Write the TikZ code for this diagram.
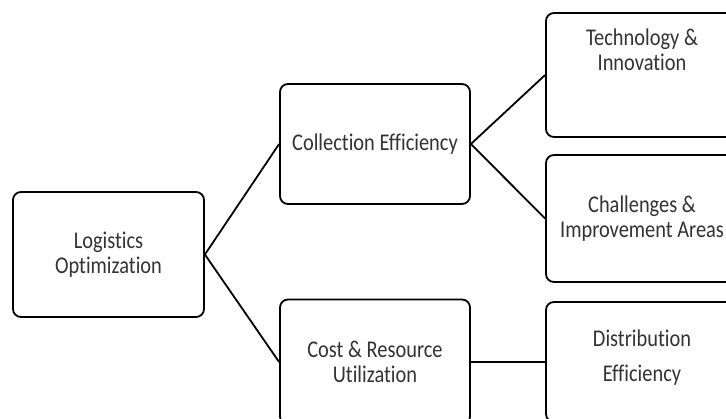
\documentclass[tikz,border=0pt]{standalone}
\usepackage{fontspec}
\setmainfont{Carlito}[FakeStretch=0.85, Ligatures=NoCommon]
\definecolor{txt}{HTML}{333333}
\begin{document}
\begin{tikzpicture}[x=1pt,y=-1pt,
  box/.style={draw=black, line width=1.8pt, rounded corners=8pt, fill=white, inner sep=0pt, align=center, text=txt, font=\fontsize{24}{25}\selectfont},
  lbl/.style={inner sep=0pt, align=center, text=txt, font=\fontsize{24}{25}\selectfont},
  link/.style={draw=black, line width=1.8pt}]
\useasboundingbox (0,0) rectangle (726,418);
\clip (0,0) rectangle (726,418);
\node[box, minimum width=191pt, minimum height=125pt] (root) at (108.5,254.5) {Logistics\\Optimization};
\node[box, minimum width=190pt, minimum height=120pt] (coll) at (375,144) {Collection Efficiency};
\node[box, minimum width=190pt, minimum height=125pt] (cost) at (375,362) {Cost \& Resource\\Utilization};
\node[box, minimum width=192pt, minimum height=124pt] (tech) at (642,75) {};
\node[lbl] (techlbl) at (642,50) {Technology \&\\Innovation};
\node[box, minimum width=192pt, minimum height=127pt] (chal) at (642,218.5) {Challenges \&\\Improvement Areas};
\node[box, minimum width=192pt, minimum height=120pt] (dist) at (642,362) {};
\node[lbl] (distlbl) at (642,357.5) {Distribution\\[10pt]Efficiency};
\draw[link] (root.east) -- (coll.west);
\draw[link] (root.east) -- (cost.west);
\draw[link] (coll.east) -- (tech.west);
\draw[link] (coll.east) -- (chal.west);
\draw[link] (cost.east) -- (dist.west);
\end{tikzpicture}
\end{document}
